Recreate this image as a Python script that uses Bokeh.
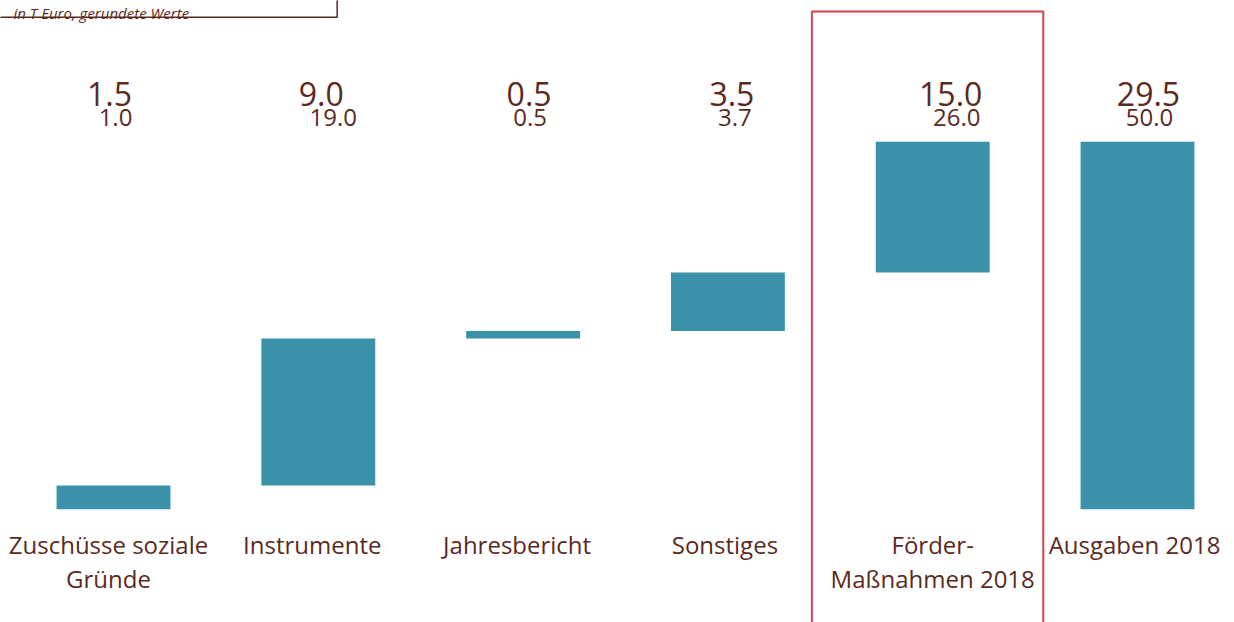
from bokeh.plotting import figure
from bokeh.models import ColumnDataSource, Range1d
from bokeh.core.properties import value
from bokeh.embed import file_html
from bokeh.resources import INLINE

# ---- data ----
categories = ["Zuschüsse soziale\nGründe", "Instrumente", "Jahresbericht",
              "Sonstiges", "Förder-\nMaßnahmen 2018", "Ausgaben 2018"]
step_values = [1.9, 11.8, 0.6, 4.7, 10.5]          # waterfall steps (bar heights)
value_labels = ["1.5", "9.0", "0.5", "3.5", "15.0", "29.5"]
share_labels = ["1.0", "19.0", "0.5", "3.7", "26.0", "50.0"]
unit_note = "in T Euro, gerundete Werte"
highlight_index = 4

# ---- styles ----
BAR = "#3A91A8"
TXT = "#5B2A1E"
RED = "#D0454A"
FONT = "Open Sans"
big_dx = [-4, 3, 6, 4, 18, 11]
small_dx = [2, 15, 7, 7, 24, 12]
cat_dx = [-5, -6, -6, -3, 0, -3]

# waterfall geometry
bottoms, tops = [], []
run = 0.0
for v in step_values:
    bottoms.append(run)
    run += v
    tops.append(run)
total = run
bottoms.append(0.0)
tops.append(total)
xs = list(range(len(categories)))
half = 0.278

p = figure(width=1234, height=622,
           x_range=Range1d(-0.5518, 5.4736), y_range=Range1d(-9.098, 40.846),
           output_backend="svg", toolbar_location=None, min_border=0,
           x_axis_type=None, y_axis_type=None)
p.outline_line_color = None
p.background_fill_color = "white"

bars = ColumnDataSource(dict(left=[x - half for x in xs], right=[x + half for x in xs],
                             bottom=bottoms, top=tops))
p.quad(left="left", right="right", bottom="bottom", top="top", source=bars,
       fill_color=BAR, line_color=None)

lab = ColumnDataSource(dict(x=xs, yb=[total + 3.85] * len(xs), ys=[total + 1.95] * len(xs),
                            big=value_labels, small=share_labels,
                            bdx=big_dx, sdx=small_dx))
p.text(x="x", y="yb", text="big", x_offset="bdx", source=lab,
       text_font=value(FONT), text_font_size=value("32px"), text_color=TXT,
       text_align="center", text_baseline="alphabetic")
p.text(x="x", y="ys", text="small", x_offset="sdx", source=lab,
       text_font=value(FONT), text_font_size=value("24px"), text_color=TXT,
       text_align="center", text_baseline="alphabetic")

line1 = [c.split("\n")[0] for c in categories]
line2 = [c.split("\n")[1] if "\n" in c else "" for c in categories]
cat = ColumnDataSource(dict(x=xs, y1=[-2.84] * len(xs), y2=[-5.54] * len(xs),
                            l1=line1, l2=line2, dx=cat_dx))
for col, ycol in (("l1", "y1"), ("l2", "y2")):
    p.text(x="x", y=ycol, text=col, x_offset="dx", source=cat,
           text_font=value(FONT), text_font_size=value("24px"), text_color=TXT,
           text_align="center", text_baseline="alphabetic")

# highlight box around the Förder-Maßnahmen column
p.quad(left=[highlight_index - 0.59], right=[highlight_index + 0.54],
       top=[39.96], bottom=[-12], fill_color=None, line_color=RED, line_width=2)

# unit note box (cut at top edge)
p.quad(left=[-1.0], right=[1.092], top=[45.0], bottom=[39.505],
       fill_color=None, line_color=TXT, line_width=1.5)
p.text(x=[-0.4883], y=[39.85], text=[unit_note],
       text_font=value(FONT), text_font_size=value("15px"), text_font_style="italic",
       text_color=TXT, text_align="left", text_baseline="alphabetic")

open("out.html", "w").write(file_html(p, INLINE))
